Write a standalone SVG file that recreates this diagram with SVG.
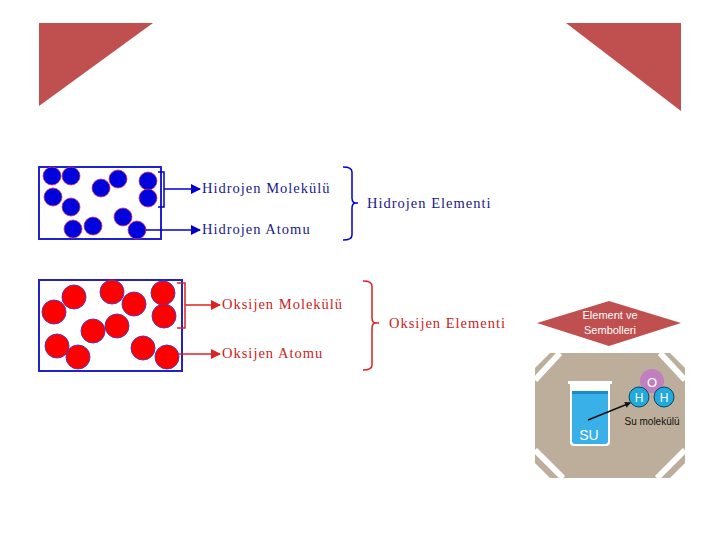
<svg xmlns="http://www.w3.org/2000/svg" width="720" height="540" viewBox="0 0 720 540">
<style>
.h{fill:#0000dd;stroke:#cc3366;stroke-width:0.8}
.o{fill:#ff0000;stroke:#6633aa;stroke-width:1}
.bt{font-family:"Liberation Serif",serif;font-size:14.5px;fill:#1a1a8c;letter-spacing:1px}
.rt{font-family:"Liberation Serif",serif;font-size:14.5px;fill:#cc2222;letter-spacing:1px}
.bl{stroke:#0000cc;stroke-width:1.5;fill:none}
.rl{stroke:#dd2222;stroke-width:1.5;fill:none}
</style>
<defs>
<marker id="ab" markerWidth="10" markerHeight="10" refX="9" refY="5" orient="auto" markerUnits="userSpaceOnUse"><path d="M0,0L10,5L0,10z" fill="#0000cc"/></marker>
<marker id="ar" markerWidth="10" markerHeight="10" refX="9" refY="5" orient="auto" markerUnits="userSpaceOnUse"><path d="M0,0L10,5L0,10z" fill="#dd2222"/></marker>
<marker id="ak" markerWidth="6" markerHeight="6" refX="5" refY="3" orient="auto" markerUnits="userSpaceOnUse"><path d="M0,0L6,3L0,6z" fill="#111"/></marker>
</defs>
<rect width="720" height="540" fill="#fff"/>
<polygon points="39,23 153,23 39,106" fill="#c0504f"/>
<polygon points="566,23 681,23 681,111" fill="#c0504f"/>
<g id="hydrogen">
<rect x="39" y="167" width="122" height="72" fill="#fff" stroke="#2222cc" stroke-width="2"/>
<circle class="h" cx="52" cy="176" r="9"/><circle class="h" cx="71" cy="176" r="9"/>
<circle class="h" cx="101" cy="188" r="9"/><circle class="h" cx="118" cy="179" r="9"/>
<circle class="h" cx="148" cy="181" r="9"/><circle class="h" cx="148" cy="198" r="9"/>
<circle class="h" cx="53" cy="197" r="9"/><circle class="h" cx="71" cy="207" r="9"/>
<circle class="h" cx="73" cy="229" r="9"/><circle class="h" cx="93" cy="226" r="9"/>
<circle class="h" cx="123" cy="217" r="9"/><circle class="h" cx="137" cy="230" r="9"/>
</g>
<g id="oxygen">
<rect x="39" y="280" width="143" height="91" fill="#fff" stroke="#2222cc" stroke-width="2"/>
<circle class="o" cx="74" cy="297" r="12"/><circle class="o" cx="54" cy="312" r="12"/>
<circle class="o" cx="112" cy="292" r="12"/><circle class="o" cx="134" cy="304" r="12"/>
<circle class="o" cx="163" cy="293" r="12"/><circle class="o" cx="164" cy="316" r="12"/>
<circle class="o" cx="93" cy="331" r="12"/><circle class="o" cx="117" cy="326" r="12"/>
<circle class="o" cx="57" cy="346" r="12"/><circle class="o" cx="78" cy="357" r="12"/>
<circle class="o" cx="143" cy="348" r="12"/><circle class="o" cx="167" cy="357" r="12"/>
</g>
<g id="connectors">
<path class="bl" d="M158,172H164V207H158M164,189H200" marker-end="url(#ab)"/>
<path class="bl" d="M146,230H200" marker-end="url(#ab)"/>
<path class="bl" d="M343,167Q352,167 352,172V198Q352,203 356,203H358M356,203Q352,203 352,208V235Q352,240 343,240"/>
<path class="rl" d="M177,283H185V328H177M185,305H220" marker-end="url(#ar)"/>
<path class="rl" d="M179,354H220" marker-end="url(#ar)"/>
<path class="rl" d="M363,281Q372,281 372,286V318Q372,323 376,323H379M376,323Q372,323 372,328V365Q372,370 363,370"/>
</g>
<g id="labels">
<text class="bt" x="202" y="193">Hidrojen Molekülü</text>
<text class="bt" x="202" y="234">Hidrojen Atomu</text>
<text class="bt" x="367" y="208">Hidrojen Elementi</text>
<text class="rt" x="222" y="309">Oksijen Molekülü</text>
<text class="rt" x="222" y="358">Oksijen Atomu</text>
<text class="rt" x="389" y="328">Oksijen Elementi</text>
</g>
<g id="badge">
<polygon points="537,323 609,301 681,323 609,346" fill="#c0504f"/>
<text x="610" y="319" text-anchor="middle" font-family="Liberation Sans,sans-serif" font-size="11" fill="#fff">Element ve</text>
<text x="610" y="334" text-anchor="middle" font-family="Liberation Sans,sans-serif" font-size="11" fill="#fff">Sembolleri</text>
</g>
<g id="picture">
<rect x="535" y="353" width="150" height="125" fill="#fff"/>
<polygon points="550,353 670,353 685,368 685,463 670,478 550,478 535,463 535,368" fill="#bcae9a"/>
<path d="M535,380 L560,353 M660,353 L685,380 M535,450 L563,478 M657,478 L685,450" stroke="#fff" stroke-width="6"/>
<rect x="568" y="381" width="44" height="3" fill="#fff"/>
<path d="M570,384V442Q570,446 574,446H606Q610,446 610,442V384" fill="#fff"/>
<path d="M572,393H608V441Q608,444 605,444H575Q572,444 572,441Z" fill="#3ab0e8"/>
<rect x="572" y="391" width="36" height="3" fill="#1a8ccc"/>
<text x="589" y="440" text-anchor="middle" font-family="Liberation Sans,sans-serif" font-size="14" fill="#fff">SU</text>
<line x1="588" y1="420" x2="630" y2="403" stroke="#111" stroke-width="1.5" marker-end="url(#ak)"/>
<circle cx="652" cy="381" r="12" fill="#c080c0"/>
<text x="652" y="387" text-anchor="middle" font-family="Liberation Sans,sans-serif" font-size="13" fill="#fff">O</text>
<circle cx="639" cy="397" r="10" fill="#22aadd" stroke="#0a4466" stroke-width="1"/>
<circle cx="664" cy="397" r="10" fill="#22aadd" stroke="#0a4466" stroke-width="1"/>
<text x="639" y="402" text-anchor="middle" font-family="Liberation Sans,sans-serif" font-size="12" fill="#fff">H</text>
<text x="664" y="402" text-anchor="middle" font-family="Liberation Sans,sans-serif" font-size="12" fill="#fff">H</text>
<text x="652" y="425" text-anchor="middle" font-family="Liberation Sans,sans-serif" font-size="10" fill="#111">Su molekülü</text>
</g>
</svg>
